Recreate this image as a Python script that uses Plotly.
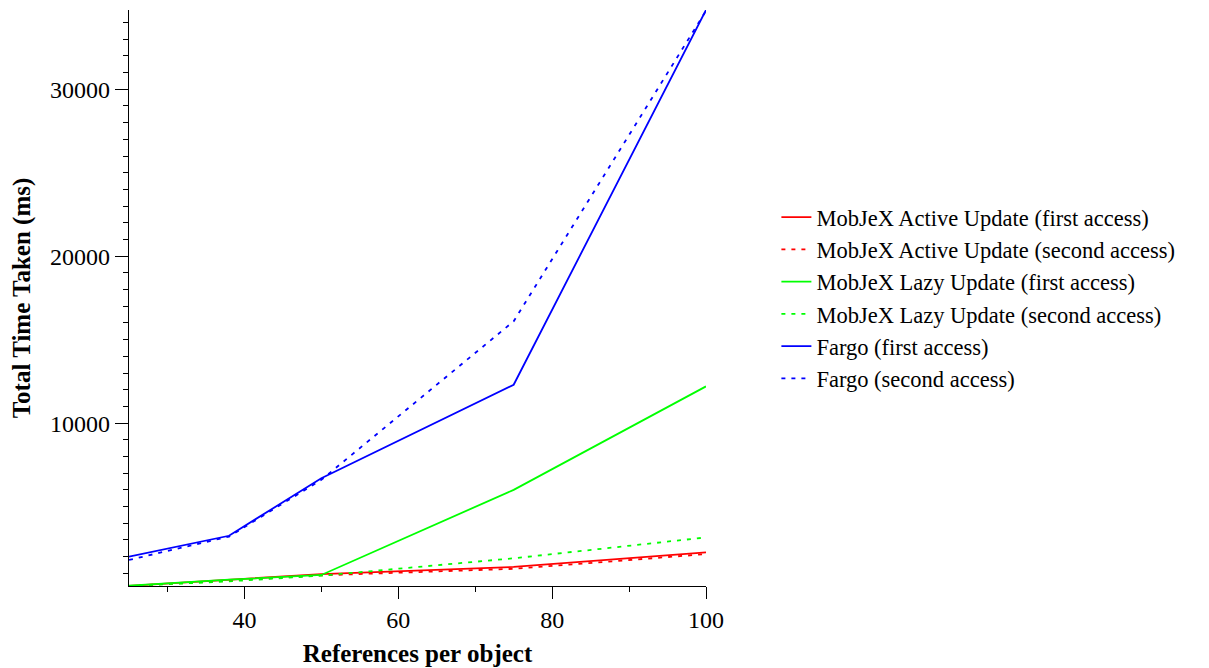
import plotly.graph_objects as go

refs = [25, 38, 50, 75, 100]

active_first = [250, 600, 950, 1380, 2250]
active_second = [240, 560, 880, 1270, 2150]
lazy_first = [260, 620, 900, 6000, 12200]
lazy_second = [240, 520, 860, 1900, 3150]
fargo_first = [2000, 3250, 6700, 12300, 34750]
fargo_second = [1800, 3200, 6600, 16100, 34700]

series = [
    ("MobJeX Active Update (first access)", active_first, "#ff0000", "solid"),
    ("MobJeX Active Update (second access)", active_second, "#ff0000", "4px,6px"),
    ("MobJeX Lazy Update (first access)", lazy_first, "#00ff00", "solid"),
    ("MobJeX Lazy Update (second access)", lazy_second, "#00ff00", "4px,6px"),
    ("Fargo (first access)", fargo_first, "#0000ff", "solid"),
    ("Fargo (second access)", fargo_second, "#0000ff", "4px,6px"),
]

FONT = "Liberation Serif, Times New Roman, serif"

fig = go.Figure()
for name, ys, color, dash in series:
    fig.add_trace(go.Scatter(
        x=refs, y=ys, mode="lines", name=name,
        line=dict(color=color, width=1.8, dash=dash),
    ))

fig.update_layout(
    width=1209, height=668,
    margin=dict(l=121, r=511, t=2, b=90, autoexpand=False),
    paper_bgcolor="white", plot_bgcolor="white",
    font=dict(family=FONT, size=22.5, color="black"),
    legend=dict(
        x=1.122, y=0.5, xanchor="left", yanchor="middle",
        font=dict(family=FONT, size=22.5, color="black"),
        bgcolor="rgba(0,0,0,0)", borderwidth=0,
        tracegroupgap=0,
    ),
    showlegend=True,
)

fig.update_xaxes(
    range=[25, 100], tick0=0, dtick=20,
    showline=True, linecolor="black", linewidth=1.3,
    ticks="outside", ticklen=12, tickwidth=1.3, tickcolor="black",
    showgrid=False, zeroline=False,
    minor=dict(dtick=10, tick0=0, ticks="outside", ticklen=5, tickwidth=1.3, tickcolor="black", showgrid=False),
    tickfont=dict(family=FONT, size=24, color="black"),
    title=dict(text="<b>References per object</b>", font=dict(family=FONT, size=25, color="black"), standoff=12),
)
fig.update_yaxes(
    range=[240, 34750], tick0=0, dtick=10000, tickformat="d",
    showline=True, linecolor="black", linewidth=1.3,
    ticks="outside", ticklen=13, tickwidth=1.3, tickcolor="black",
    showgrid=False, zeroline=False,
    minor=dict(dtick=1000, tick0=0, ticks="outside", ticklen=5, tickwidth=1.3, tickcolor="black", showgrid=False),
    tickfont=dict(family=FONT, size=24, color="black"),
    title=dict(text="<b>Total Time Taken (ms)</b>", font=dict(family=FONT, size=25, color="black"), standoff=12),
)

fig.write_html("out.html")
